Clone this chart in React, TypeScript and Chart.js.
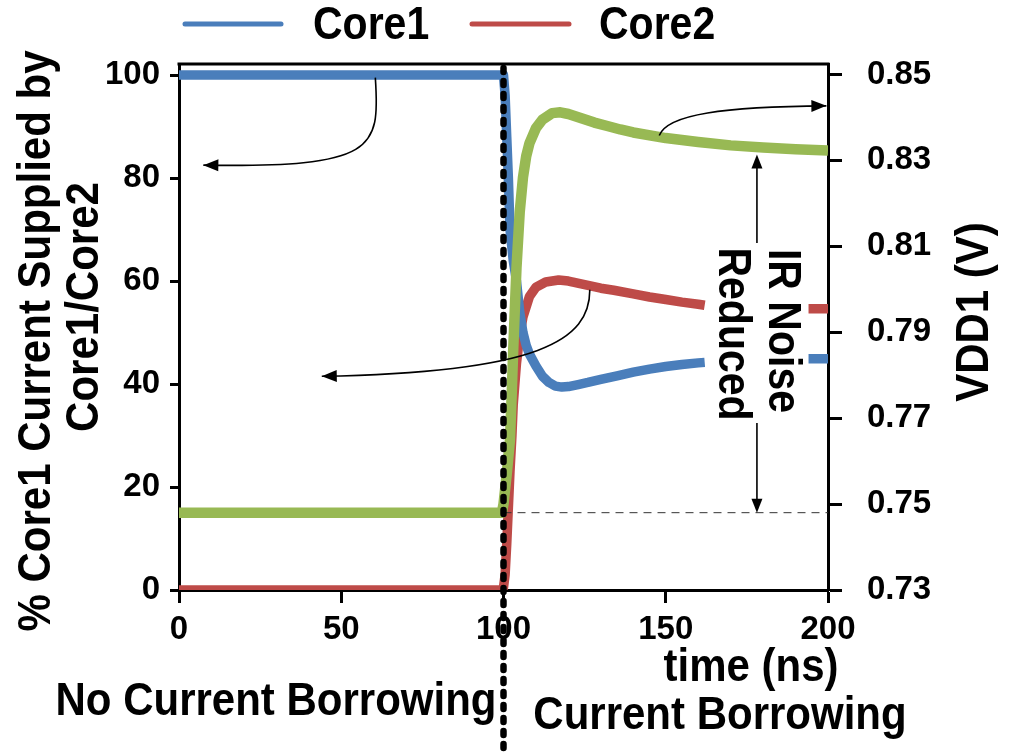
import React, { useEffect, useRef } from "react";
import { Chart, registerables } from "chart.js";
Chart.register(...registerables);

// ---------- data ----------
const xTicks = [0, 50, 100, 150, 200];
const pctTicks = [0, 20, 40, 60, 80, 100];
const voltTicks = [0.73, 0.75, 0.77, 0.79, 0.81, 0.83, 0.85];

const core1Time = [0, 25, 50, 75, 100, 100.5, 101, 101.5, 102, 103, 104, 105, 106, 107, 108, 110, 112, 114, 116, 118, 120, 123, 126, 130, 135, 140, 145, 150, 155, 160, 162, 178, 194, 200];
const core1Pct = [100, 100, 100, 100, 100, 96, 88, 80, 70, 64, 60, 54, 50, 47.5, 45.8, 43.5, 41.5, 40.3, 39.6, 39.4, 39.5, 39.9, 40.3, 40.9, 41.6, 42.3, 42.9, 43.4, 43.8, 44.1, 44.2, null, 44.9, 44.9];

const core2Time = [0, 50, 99.5, 100, 100.5, 101, 101.5, 102, 102.6, 103, 104, 105, 106, 108, 110, 113, 117, 120, 125, 130, 134, 140, 145, 150, 155, 160, 162, 178, 194, 200];
const core2Pct = [0, 0, 0, 0.5, 3, 9, 16, 23, 30, 36, 44, 49.5, 53, 57, 58.8, 59.8, 60.2, 60.0, 59.3, 58.6, 58.2, 57.5, 56.9, 56.4, 55.9, 55.5, 55.3, null, 54.6, 54.6];

const vddTime = [0, 50, 99.5, 100, 101, 102, 102.5, 103, 104, 105, 106, 107, 108, 110, 112, 115, 117.5, 120, 124, 128, 132, 136, 140, 150, 160, 170, 180, 190, 200];
const vddVolt = [0.748, 0.748, 0.748, 0.75, 0.757, 0.765, 0.775, 0.786, 0.805, 0.818, 0.826, 0.831, 0.834, 0.8375, 0.8395, 0.841, 0.8412, 0.8408, 0.8398, 0.8388, 0.838, 0.8372, 0.8365, 0.8352, 0.8343, 0.8335, 0.833, 0.8326, 0.8323];

const seriesNames = ["Core1", "Core2", "VDD1"];
const seriesColors = ["#4A7EBB", "#BE4B48", "#98B954"];

const switchTime = 100;
const baselineVolt = 0.748;

const FONT = "'Liberation Sans', Arial, Helvetica, sans-serif";
const STRETCH = 1.12;

function pts(xs: number[], ys: (number | null)[]) {
  return xs.map((x, i) => ({ x, y: ys[i] }));
}

function arrowHead(ctx: CanvasRenderingContext2D, x: number, y: number, ang: number, len = 15, half = 6) {
  ctx.save();
  ctx.translate(x, y);
  ctx.rotate(ang);
  ctx.beginPath();
  ctx.moveTo(0, 0);
  ctx.lineTo(-len, -half);
  ctx.lineTo(-len, half);
  ctx.closePath();
  ctx.fill();
  ctx.restore();
}

const overlay = {
  id: "overlay",
  afterDraw(chart: any) {
    const ctx: CanvasRenderingContext2D = chart.ctx;
    const { left, right, top } = chart.chartArea;
    const xs = chart.scales.x;
    const ys = chart.scales.y;
    const vs = chart.scales.y1;
    const P = (xv: number, yv: number) => [xs.getPixelForValue(xv), ys.getPixelForValue(yv)];
    ctx.save();
    // top border
    ctx.strokeStyle = "#000";
    ctx.lineWidth = 3;
    ctx.beginPath();
    ctx.moveTo(left - 1.5, top);
    ctx.lineTo(right + 1.5, top);
    ctx.stroke();

    // horizontal thin dashed baseline
    const by = vs.getPixelForValue(baselineVolt);
    ctx.lineWidth = 1;
    ctx.strokeStyle = "#333";
    ctx.setLineDash([8, 6]);
    ctx.beginPath();
    ctx.moveTo(xs.getPixelForValue(switchTime), by);
    ctx.lineTo(right, by);
    ctx.stroke();
    ctx.setLineDash([]);

    // curved arrows
    ctx.strokeStyle = "#000";
    ctx.fillStyle = "#000";
    ctx.lineWidth = 1.6;
    const curve = (p0: number[], c1: number[], c2: number[], p3: number[]) => {
      ctx.beginPath();
      ctx.moveTo(p0[0], p0[1]);
      ctx.bezierCurveTo(c1[0], c1[1], c2[0], c2[1], p3[0], p3[1]);
      ctx.stroke();
      arrowHead(ctx, p3[0], p3[1], Math.atan2(p3[1] - c2[1], p3[0] - c2[0]));
    };
    curve(P(60.5, 99.5), P(62, 85.5), P(60.5, 82), P(7.5, 82.5));
    curve(P(126.6, 58.3), P(126.6, 48.5), P(111.2, 42.3), P(44, 41.5));
    curve(
      [xs.getPixelForValue(148), vs.getPixelForValue(0.8358)],
      [xs.getPixelForValue(150.5), vs.getPixelForValue(0.8408)],
      [xs.getPixelForValue(168), vs.getPixelForValue(0.8425)],
      [xs.getPixelForValue(199.5), vs.getPixelForValue(0.8427)]
    );

    // vertical double arrow (IR noise)
    const ax = xs.getPixelForValue(178.1);
    const tTop = vs.getPixelForValue(0.8314);
    const tBot = by;
    ctx.beginPath();
    ctx.moveTo(ax, tTop + 10);
    ctx.lineTo(ax, 243);
    ctx.moveTo(ax, 423);
    ctx.lineTo(ax, tBot - 10);
    ctx.stroke();
    arrowHead(ctx, ax, tTop, -Math.PI / 2, 14, 5.5);
    arrowHead(ctx, ax, tBot, Math.PI / 2, 14, 5.5);

    // texts
    ctx.fillStyle = "#000";
    ctx.textBaseline = "middle";
    ctx.font = `bold 41px ${FONT}`;
    const txt = (t: string, x: number, y: number, a: number, align: CanvasTextAlign = "center") => {
      ctx.save();
      ctx.translate(x, y);
      ctx.rotate(a);
      ctx.scale(1, STRETCH);
      ctx.textAlign = align;
      ctx.fillText(t, 0, 0);
      ctx.restore();
    };
    txt("IR Noise", 782, 331, Math.PI / 2);
    txt("Reduced", 732, 334, Math.PI / 2);

    ctx.font = `bold 42px ${FONT}`;
    txt("% Core1 Current Supplied by", 37, 341, -Math.PI / 2);
    txt("Core1/Core2", 85, 307, -Math.PI / 2);
    txt("VDD1 (V)", 975, 312, -Math.PI / 2);
    txt("time (ns)", 751, 668, 0);
    txt("No Current Borrowing", 276, 702, 0);
    txt("Current Borrowing", 720, 716, 0);

    // legend
    ctx.font = `bold 41px ${FONT}`;
    ctx.lineCap = "round";
    ctx.lineWidth = 5;
    const legendItems = [
      { x0: 185, x1: 281, tx: 313 },
      { x0: 472, x1: 569, tx: 599 },
    ];
    legendItems.forEach((it, i) => {
      ctx.strokeStyle = seriesColors[i];
      ctx.beginPath();
      ctx.moveTo(it.x0, 24);
      ctx.lineTo(it.x1, 24);
      ctx.stroke();
      txt(seriesNames[i], it.tx, 26, 0, "left");
    });
    ctx.lineCap = "butt";

    // thick dotted vertical separator
    const sx = xs.getPixelForValue(switchTime);
    ctx.strokeStyle = "#000";
    ctx.lineWidth = 6.5;
    ctx.lineCap = "round";
    ctx.setLineDash([4, 9]);
    ctx.beginPath();
    ctx.moveTo(sx, top + 4);
    ctx.lineTo(sx, chart.height);
    ctx.stroke();
    ctx.restore();
  },
};

export default function App() {
  const ref = useRef<HTMLCanvasElement | null>(null);
  useEffect(() => {
    if (!ref.current) return;
    const tickFont = { family: FONT, size: 33, weight: "bold" as const };
    const grid = (len: number) => ({
      drawOnChartArea: false,
      drawTicks: true,
      tickLength: len,
      tickWidth: 3,
      tickColor: "#000",
    });
    const line = (i: number, xs: number[], ys: (number | null)[], axis: string, w: number, order: number) => ({
      label: seriesNames[i],
      data: pts(xs, ys) as any,
      borderColor: seriesColors[i],
      backgroundColor: seriesColors[i],
      borderWidth: w,
      pointRadius: 0,
      yAxisID: axis,
      order,
      spanGaps: false,
      borderJoinStyle: "round" as const,
      borderCapStyle: "butt" as const,
    });
    const chart = new Chart(ref.current, {
      type: "line",
      data: {
        datasets: [
          line(0, core1Time, core1Pct, "y", 9.5, 1),
          line(1, core2Time, core2Pct, "y", 9.5, 2),
          line(2, vddTime, vddVolt, "y1", 10.5, 0),
        ],
      },
      options: {
        responsive: false,
        animation: false,
        layout: { padding: { top: 64, left: 0, right: 0, bottom: 0 } },
        plugins: { legend: { display: false }, tooltip: { enabled: false } },
        scales: {
          x: {
            type: "linear",
            min: 0,
            max: 200,
            afterBuildTicks: (s: any) => {
              s.ticks = xTicks.map((v) => ({ value: v }));
            },
            ticks: { font: tickFont, color: "#000", padding: 7, maxRotation: 0, autoSkip: false },
            grid: grid(13),
            border: { display: true, color: "#000", width: 3 },
            afterFit: (s: any) => {
              s.height = 165;
            },
          },
          y: {
            position: "left",
            min: 0,
            max: 102.14,
            afterBuildTicks: (s: any) => {
              s.ticks = pctTicks.map((v) => ({ value: v }));
            },
            ticks: { font: tickFont, color: "#000", padding: 10 },
            grid: grid(9),
            border: { display: true, color: "#000", width: 3 },
            afterFit: (s: any) => {
              s.width = 179;
            },
          },
          y1: {
            position: "right",
            min: 0.73,
            max: 0.85244,
            afterBuildTicks: (s: any) => {
              s.ticks = voltTicks.map((v) => ({ value: v }));
            },
            ticks: {
              font: tickFont,
              color: "#000",
              padding: 25,
              callback: (v: any) => Number(v).toFixed(2),
            },
            grid: grid(14),
            border: { display: true, color: "#000", width: 3 },
            afterFit: (s: any) => {
              s.width = 181;
            },
          },
        },
      },
      plugins: [overlay],
    });
    return () => chart.destroy();
  }, []);
  return (
    <div style={{ position: "fixed", left: 0, top: 0, width: 1009, height: 755, background: "#fff" }}>
      <canvas ref={ref} width={1009} height={755} style={{ width: 1009, height: 755, display: "block" }} />
    </div>
  );
}
